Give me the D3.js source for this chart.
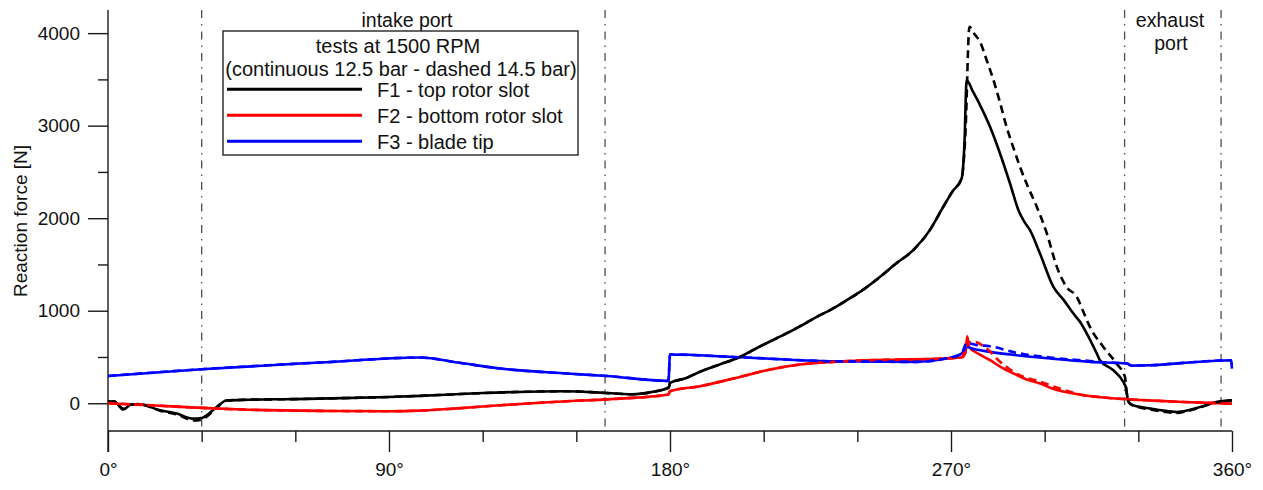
<!DOCTYPE html>
<html>
<head>
<meta charset="utf-8">
<script src="https://cdn.jsdelivr.net/npm/d3@7"></script>
<style>
  html, body { margin: 0; padding: 0; background: #fff; }
  svg { display: block; font-family: "Liberation Sans", Arial, sans-serif; }
</style>
</head>
<body>
<svg id="chart" width="1263" height="490"></svg>
<script>
// Reaction forces on the vane over one revolution (angle in degrees, force in N)

// F1 - top rotor slot, 12.5 bar (continuous)
const f1Solid = [
  [0,15],[2,22],[4.9,-68],[7.6,-11],[10,-11],[16.7,-76],[22,-112],[27.3,-166],[30,-160],
  [31.6,-130],[34.8,-40],[38,30],[45,38],[60,45],[75,55],[90,68],[100,80],[110,95],
  [120,110],[135,125],[147,130],[157.6,115],[168,97],[174,120],[179.6,170],[180,220],
  [185,270],[189.6,340],[196,420],[202.4,500],[208,600],[215,717],[221,820],[227,933],
  [232,1020],[236.6,1113],[242,1230],[247.3,1366],[252,1500],[257.9,1654],[263,1860],
  [267.5,2122],[270.5,2290],[273.4,2429],[274.3,2800],[275,3492],[277,3370],[279.3,3222],
  [282.5,2987],[285.7,2699],[288.9,2375],[291.6,2086],[293.5,1960],[295.3,1870],
  [298.5,1618],[302.8,1257],[306,1120],[309.2,969],[311.3,880],[313.5,753],[316.7,537],
  [317.7,465],[322,357],[325.2,230],[326,170],[326.8,20],[328,-20],[334,-58],[338,-80],
  [342.3,-94],[346,-75],[349.8,-40],[355,14],[360,32]
];

// F1 - top rotor slot, 14.5 bar (dashed)
const f1Dashed = [
  [0,20],[2,15],[5,-60],[7.6,-15],[10,-10],[16.7,-80],[22,-120],[27.3,-185],[30,-178],
  [31.6,-145],[34.8,-50],[38,30],[45,38],[60,45],[75,55],[90,68],[100,80],[110,95],
  [120,110],[135,125],[147,130],[157.6,115],[168,97],[174,120],[179.6,170],[180,220],
  [185,270],[189.6,340],[196,420],[202.4,500],[208,600],[215,717],[221,820],[227,933],
  [232,1020],[236.6,1113],[242,1230],[247.3,1366],[252,1500],[257.9,1654],[263,1860],
  [267.5,2122],[270.5,2290],[273.4,2429],[274.6,2900],[275.9,4068],[277.5,3990],
  [279.3,3906],[281.5,3700],[283.6,3492],[285.7,3250],[287.8,2987],[290,2760],
  [292.1,2555],[294.5,2350],[297.5,2122],[300.7,1835],[303.9,1474],[307,1257],
  [310.3,1149],[312.5,980],[314.5,825],[318.8,609],[323,429],[325.7,285],[326.3,105],
  [327.2,0],[330,-40],[334,-70],[338,-90],[342.3,-105],[346,-82],[349.8,-45],[355,10],[360,30]
];

// F2 - bottom rotor slot, 12.5 bar (continuous)
const f2Solid = [
  [0,0],[15,-25],[30,-50],[45,-70],[68,-83],[90,-86],[100,-80],[112,-55],[125.6,-22],
  [136,0],[147,22],[164,50],[179.5,94],[180,130],[189.6,184],[200.3,267],[211,357],
  [221.6,418],[232.2,447],[243,465],[253.7,472],[264.3,479],[273.4,494],[274.6,540],
  [275.2,724],[275.8,608],[279,530],[282.5,465],[286,390],[290,321],[294,260],
  [298.5,213],[302,165],[305.5,130],[309.2,105],[312.4,86],[318,65],[325.2,45],
  [335,28],[344.4,14],[360,-4]
];

// F2 - bottom rotor slot, 14.5 bar (dashed)
const f2Dashed = [
  [0,0],[15,-25],[30,-50],[45,-70],[68,-83],[90,-86],[100,-80],[112,-55],[125.6,-22],
  [136,0],[147,22],[164,50],[179.5,94],[180,130],[189.6,184],[200.3,267],[211,357],
  [221.6,418],[232.2,447],[243,465],[253.7,472],[264.3,479],[273.4,494],[275.5,660],
  [277.7,663],[280,625],[282.5,560],[285,470],[287.8,392],[291,320],[294,275],
  [297.5,245],[302,190],[307,135],[312,90],[318,65],[325.2,45],[335,28],[344.4,14],[360,-4]
];

// F3 - blade tip, 12.5 bar (continuous)
const f3Solid = [
  [0,295],[30,368],[61.5,429],[68,440],[100,494],[112,440],[125.6,375],[147,321],
  [159.7,295],[179.5,241],[180,526],[200.3,500],[232.3,454],[259,447],[268,480],
  [273.4,537],[275,608],[278,580],[282.5,555],[291,519],[301.7,483],[314.5,447],
  [326.3,429],[327.9,407],[334,411],[344.4,436],[359.7,465],[360,375]
];

// F3 - blade tip, 14.5 bar (dashed)
const f3Dashed = [
  [0,295],[30,368],[61.5,429],[68,440],[100,494],[112,440],[125.6,375],[147,321],
  [159.7,295],[179.5,241],[180,526],[200.3,500],[232.3,454],[259,447],[268,480],
  [273.4,537],[275,652],[278,630],[282.5,616],[291,545],[301.7,494],[314.5,457],
  [320,440],[326.3,429],[327.9,407],[334,411],[344.4,436],[359.7,465],[360,375]
];

// Port boundaries (degrees)
const portAngles = [30, 159.2, 325.6, 356.5];

const xMajorTicks = [0, 90, 180, 270, 360];
const xMinorTicks = [30, 60, 120, 150, 210, 240, 300, 330];
const yMajorTicks = [0, 1000, 2000, 3000, 4000];
const yMinorTicks = [500, 1500, 2500, 3500];

const legendTitle = ["tests at 1500 RPM", "(continuous 12.5 bar - dashed 14.5 bar)"];
const legendLabels = ["F1 - top rotor slot", "F2 - bottom rotor slot", "F3 - blade tip"];
const seriesColors = ["#000000", "#ff0000", "#0000ff"];

const svg = d3.select("#chart");

const x = d3.scaleLinear().domain([0, 360]).range([108, 1232]);
const y = d3.scaleLinear().domain([-300, 4250]).range([431, 10]);

const axisColor = "#1a1a1a";
const fontSize = 19;

// Port boundary lines (dash-dot)
svg.append("g").selectAll("line").data(portAngles).join("line")
  .attr("x1", d => x(d)).attr("x2", d => x(d))
  .attr("y1", 10).attr("y2", 431)
  .attr("stroke", "#4d4d4d").attr("stroke-width", 1.3)
  .attr("stroke-dasharray", "8,6,1.5,6");

// Y axis
const gyMajor = svg.append("g").attr("transform", `translate(${x(0)},0)`)
  .call(d3.axisLeft(y).tickValues(yMajorTicks).tickSize(20).tickPadding(8).tickFormat(d3.format("d")));
const gyMinor = svg.append("g").attr("transform", `translate(${x(0)},0)`)
  .call(d3.axisLeft(y).tickValues(yMinorTicks).tickSize(10).tickFormat(""));

// X axis
const gxMajor = svg.append("g").attr("transform", `translate(0,${y(-300)})`)
  .call(d3.axisBottom(x).tickValues(xMajorTicks).tickSize(21).tickPadding(11).tickFormat(d => d + "°"));
const gxMinor = svg.append("g").attr("transform", `translate(0,${y(-300)})`)
  .call(d3.axisBottom(x).tickValues(xMinorTicks).tickSize(11).tickFormat(""));

[gyMajor, gyMinor, gxMajor, gxMinor].forEach(g => {
  g.select(".domain").remove();
  g.attr("font-family", null).attr("font-size", null);
  g.selectAll(".tick line").attr("stroke", axisColor).attr("stroke-width", 1.4);
  g.selectAll(".tick text").attr("fill", "#111").attr("font-size", fontSize);
});

// Axis lines
svg.append("line").attr("x1", x(0)).attr("x2", x(0)).attr("y1", 10).attr("y2", 452)
  .attr("stroke", axisColor).attr("stroke-width", 1.4);
svg.append("line").attr("x1", x(0)).attr("x2", x(360)).attr("y1", y(-300)).attr("y2", y(-300))
  .attr("stroke", axisColor).attr("stroke-width", 1.4);

// Y axis title
svg.append("text")
  .attr("transform", "translate(27,221) rotate(-90)")
  .attr("text-anchor", "middle")
  .attr("font-size", fontSize).attr("fill", "#111")
  .text("Reaction force [N]");

// Curves
const line = d3.line().x(d => x(d[0])).y(d => y(d[1])).curve(d3.curveMonotoneX);
const curves = [
  { data: f1Solid, color: seriesColors[0], dashed: false },
  { data: f2Solid, color: seriesColors[1], dashed: false },
  { data: f3Solid, color: seriesColors[2], dashed: false },
  { data: f1Dashed, color: seriesColors[0], dashed: true },
  { data: f2Dashed, color: seriesColors[1], dashed: true },
  { data: f3Dashed, color: seriesColors[2], dashed: true }
];
svg.append("g").selectAll("path").data(curves).join("path")
  .attr("d", d => line(d.data))
  .attr("fill", "none")
  .attr("stroke", d => d.color)
  .attr("stroke-width", 2.6)
  .attr("stroke-linejoin", "round")
  .attr("stroke-dasharray", d => d.dashed ? "8,5" : null);

// Port annotations
svg.append("text").attr("x", 407).attr("y", 27).attr("text-anchor", "middle")
  .attr("font-size", 19.5).attr("fill", "#111").text("intake port");
svg.append("text").attr("x", 1170).attr("y", 27).attr("text-anchor", "middle")
  .attr("font-size", 19.5).attr("fill", "#111").text("exhaust");
svg.append("text").attr("x", 1171).attr("y", 50).attr("text-anchor", "middle")
  .attr("font-size", 19.5).attr("fill", "#111").text("port");

// Legend
const legend = svg.append("g");
legend.append("rect").attr("x", 223).attr("y", 31).attr("width", 355).attr("height", 124)
  .attr("fill", "#fff").attr("stroke", "#333").attr("stroke-width", 1.5);
legend.selectAll("text.title").data(legendTitle).join("text")
  .attr("class", "title")
  .attr("x", (d, i) => i === 0 ? 398 : 401)
  .attr("y", (d, i) => 53 + i * 22.5)
  .attr("text-anchor", "middle").attr("font-size", 20).attr("fill", "#111")
  .text(d => d);
const items = legend.selectAll("g.item").data(legendLabels).join("g").attr("class", "item");
items.append("line")
  .attr("x1", 227).attr("x2", 362)
  .attr("y1", (d, i) => 89.3 + i * 26).attr("y2", (d, i) => 89.3 + i * 26)
  .attr("stroke", (d, i) => seriesColors[i]).attr("stroke-width", 3);
items.append("text")
  .attr("x", 377).attr("y", (d, i) => 96.5 + i * 26)
  .attr("font-size", 20).attr("fill", "#111")
  .text(d => d);
</script>
</body>
</html>
